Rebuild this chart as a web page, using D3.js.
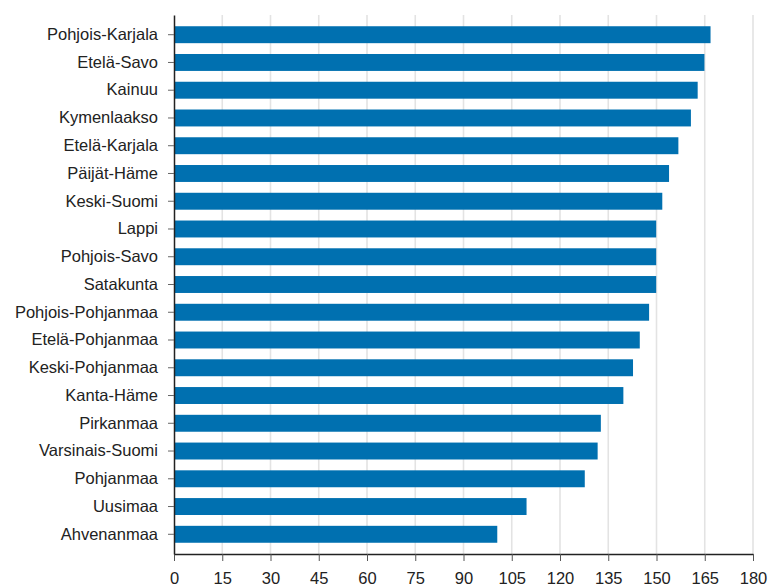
<!DOCTYPE html>
<html>
<head>
<meta charset="utf-8">
<script src="https://cdn.jsdelivr.net/npm/d3@7"></script>
<style>
  body { margin: 0; background: #fff; }
  text { font-family: "Liberation Sans", Arial, sans-serif; }
</style>
</head>
<body>
<svg id="chart"></svg>
<script>
const regions = [
  "Pohjois-Karjala", "Etelä-Savo", "Kainuu", "Kymenlaakso", "Etelä-Karjala",
  "Päijät-Häme", "Keski-Suomi", "Lappi", "Pohjois-Savo", "Satakunta",
  "Pohjois-Pohjanmaa", "Etelä-Pohjanmaa", "Keski-Pohjanmaa", "Kanta-Häme",
  "Pirkanmaa", "Varsinais-Suomi", "Pohjanmaa", "Uusimaa", "Ahvenanmaa"
];
const values = [
  166.8, 164.9, 162.8, 160.7, 156.8,
  153.9, 151.8, 149.9, 149.9, 149.9,
  147.7, 144.8, 142.7, 139.7,
  132.7, 131.7, 127.7, 109.6, 100.5
];
const xTicks = [0, 15, 30, 45, 60, 75, 90, 105, 120, 135, 150, 165, 180];

// dimensions and margins
const margin = { top: 15, right: 17, bottom: 32, left: 174 };
const width = 770 - margin.left - margin.right;
const height = 586 - margin.top - margin.bottom;

const svg = d3.select("#chart")
  .attr("width", width + margin.left + margin.right)
  .attr("height", height + margin.top + margin.bottom)
  .append("g")
  .attr("transform", "translate(" + margin.left + "," + margin.top + ")");

const x = d3.scaleLinear().domain([0, 180]).range([0, width]);
const y = d3.scaleBand()
  .domain(regions)
  .range([0, height])
  .paddingInner(0.39)
  .paddingOuter(0.405);

// vertical grid lines
svg.append("g")
  .selectAll("line")
  .data(xTicks.slice(1))
  .enter()
  .append("line")
  .attr("x1", d => x(d))
  .attr("x2", d => x(d))
  .attr("y1", 0)
  .attr("y2", height)
  .attr("stroke", "#e3e3e3")
  .attr("stroke-width", 1.6);

// bars
svg.append("g")
  .selectAll("rect")
  .data(regions)
  .enter()
  .append("rect")
  .attr("x", 0)
  .attr("y", d => y(d))
  .attr("width", (d, i) => x(values[i]))
  .attr("height", y.bandwidth())
  .attr("fill", "#0070b0");

// x axis
const xAxis = svg.append("g")
  .attr("transform", "translate(0," + height + ")")
  .call(d3.axisBottom(x).tickValues(xTicks).tickSize(7).tickPadding(11).tickSizeOuter(0));
xAxis.select(".domain").attr("stroke", "#222").attr("stroke-width", 1.5);
xAxis.selectAll(".tick line").attr("stroke", "#555");
xAxis.selectAll("text").attr("font-size", 16.5).attr("fill", "#222");

// y axis
const yAxis = svg.append("g")
  .call(d3.axisLeft(y).tickSize(6).tickPadding(10).tickSizeOuter(0));
yAxis.select(".domain").attr("stroke", "#222").attr("stroke-width", 1.5);
yAxis.selectAll(".tick line").attr("stroke", "#666");
yAxis.selectAll("text").attr("font-size", 16.5).attr("fill", "#222");
</script>
</body>
</html>
